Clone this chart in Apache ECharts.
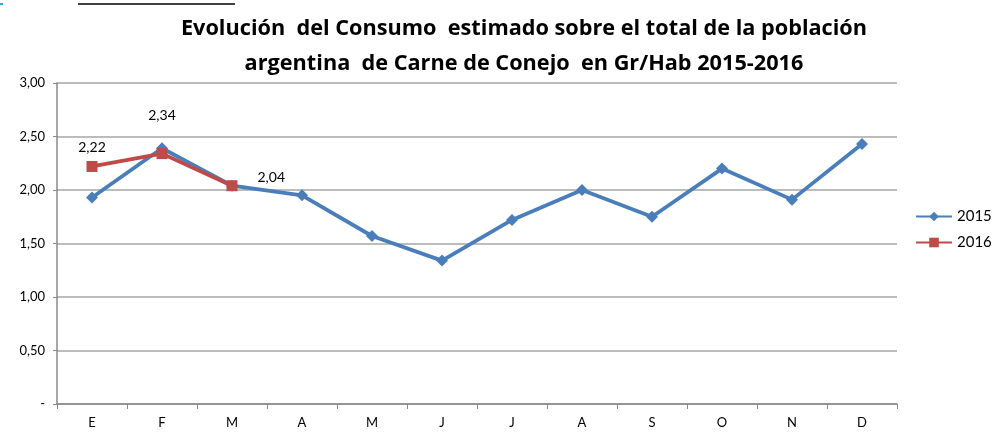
<!DOCTYPE html>
<html>
<head>
<meta charset="utf-8">
<script src="https://cdn.jsdelivr.net/npm/echarts@6/dist/echarts.min.js"></script>
<style>
  html, body { margin: 0; padding: 0; background: #fff; }
  #main { width: 995px; height: 432px; }
</style>
</head>
<body>
<div id="main"></div>
<script>
// datos
var meses = ['E', 'F', 'M', 'A', 'M', 'J', 'J', 'A', 'S', 'O', 'N', 'D'];
var consumo2015 = [1.93, 2.39, 2.04, 1.95, 1.57, 1.34, 1.72, 2.00, 1.75, 2.20, 1.91, 2.43];
var consumo2016 = [2.22, 2.34, 2.04];
var yTicks = ['-', '0,50', '1,00', '1,50', '2,00', '2,50', '3,00'];

var titulo = 'Evolución  del Consumo  estimado sobre el total de la población\nargentina  de Carne de Conejo  en Gr/Hab 2015-2016';

var myChart = echarts.init(document.getElementById('main'));

// posiciones de etiquetas para 2016 (como en el original)
var etiquetas2016 = [
  { position: 'top', distance: 6 },
  { position: 'top', distance: 26 },
  { position: 'right', distance: 20, offset: [0, -8] }
];

var option = {
  backgroundColor: '#fff',
  animation: false,
  title: {
    text: titulo,
    left: 519,
    top: 6,
    textAlign: 'center',
    textStyle: {
      fontFamily: 'Open Sans',
      fontWeight: 'bold',
      fontSize: 21.7,
      lineHeight: 35,
      color: '#000'
    }
  },
  legend: {
    orient: 'vertical',
    left: 910,
    top: 204,
    itemWidth: 36,
    itemHeight: 12,
    itemGap: 11,
    textStyle: { fontFamily: 'Lato', fontSize: 15, color: '#000' },
    data: ['2015', '2016']
  },
  grid: { left: 57, right: 98, top: 83, bottom: 28 },
  xAxis: {
    type: 'category',
    data: meses,
    boundaryGap: true,
    axisLine: { lineStyle: { color: '#888', width: 1.5 } },
    axisTick: { show: true, length: 5, lineStyle: { color: '#888' } },
    axisLabel: { fontFamily: 'Lato', fontSize: 13, color: '#000', margin: 12 }
  },
  yAxis: {
    type: 'value',
    min: 0,
    max: 3,
    interval: 0.5,
    axisLine: { show: true, lineStyle: { color: '#888', width: 1.5 } },
    axisTick: { show: true, length: 4, lineStyle: { color: '#888' } },
    splitLine: { lineStyle: { color: '#a6a6a6', width: 1.5 } },
    axisLabel: {
      fontFamily: 'Lato',
      fontSize: 13,
      color: '#000',
      margin: 12,
      formatter: function (v) { return yTicks[Math.round(v / 0.5)]; }
    }
  },
  series: [
    {
      name: '2015',
      type: 'line',
      data: consumo2015,
      symbol: 'diamond',
      symbolSize: 12,
      itemStyle: { color: '#4a7ebb' },
      lineStyle: { color: '#4a7ebb', width: 3.8 },
      z: 2
    },
    {
      name: '2016',
      type: 'line',
      data: consumo2016.map(function (v, i) {
        return { value: v, label: etiquetas2016[i] };
      }),
      symbol: 'rect',
      symbolSize: 11,
      itemStyle: { color: '#be4b48' },
      lineStyle: { color: '#be4b48', width: 3.8 },
      label: {
        show: true,
        fontFamily: 'Lato',
        fontSize: 14,
        color: '#000',
        formatter: function (p) { return p.value.toFixed(2).replace('.', ','); }
      },
      z: 3
    }
  ],
  graphic: [
    { type: 'line', shape: { x1: 78, y1: 4, x2: 235, y2: 4 }, style: { stroke: '#000', lineWidth: 1.5 } },
    { type: 'line', shape: { x1: 0, y1: 4, x2: 3, y2: 4 }, style: { stroke: '#2aa8e0', lineWidth: 2 } }
  ]
};

myChart.setOption(option);
window.addEventListener('resize', function () { myChart.resize(); });
</script>
</body>
</html>
